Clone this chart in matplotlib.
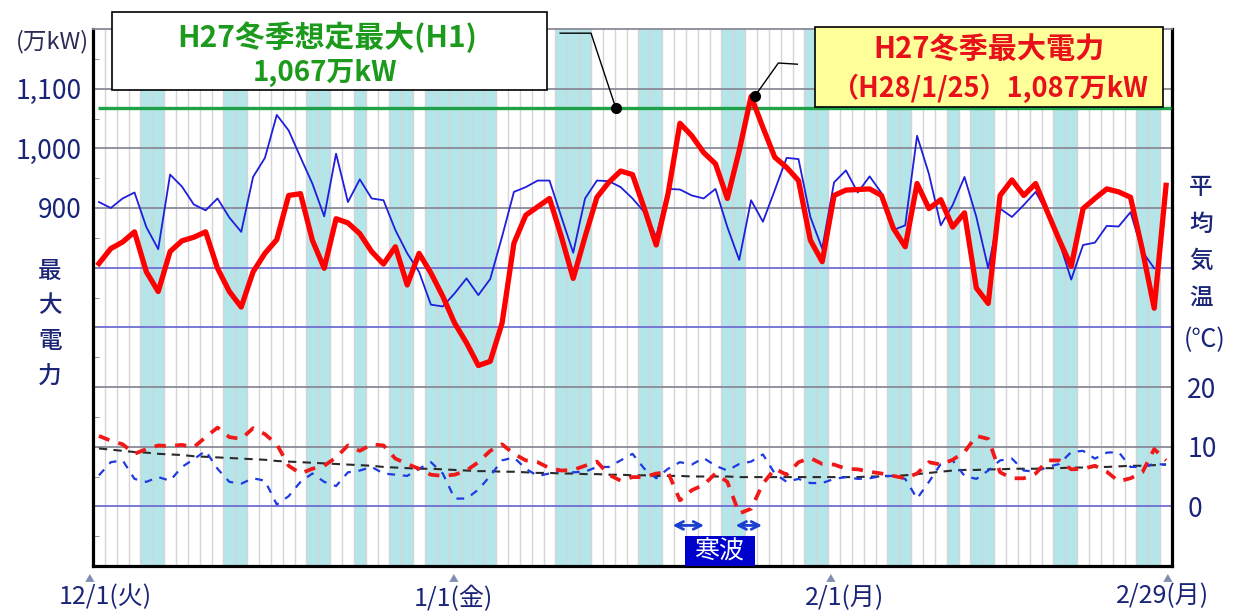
import numpy as np
import matplotlib
matplotlib.use('Agg')
import matplotlib.pyplot as plt
from matplotlib.patches import Rectangle

plt.rcParams['font.family'] = ['Noto Sans CJK JP', 'DejaVu Sans']

# ---------------- data ----------------
# H27 winter daily max power (万kW), 12/1 .. 2/29
max_power = [807, 832, 843, 860, 793, 760, 827, 845, 851, 860,
             799, 760, 734, 793, 824, 847, 921, 924, 846, 799,
             882, 875, 857, 827, 806, 835, 771, 824, 791, 752,
             707, 674, 636, 643, 707, 841, 888, 902, 916, 852,
             782, 852, 918, 943, 962, 956, 899, 838, 924, 1042,
             1021, 993, 974, 916, 996, 1087, 1035, 985, 968, 946,
             846, 810, 921, 930, 931, 932, 921, 866, 835, 941,
             899, 914, 868, 892, 766, 740, 921, 947, 921, 941,
             893, 846, 802, 899, 916, 932, 927, 918, 830, 732, 938]
# previous winter daily max power (万kW)
prev_power = [910, 900, 916, 926, 868, 831, 956, 936, 906, 896,
              916, 884, 860, 952, 984, 1056, 1030, 985, 941, 886,
              991, 910, 948, 916, 913, 863, 824, 793, 738, 735,
              757, 782, 754, 781, 852, 927, 935, 946, 946, 885,
              825, 916, 946, 945, 935, 916, 893, 852, 932, 931,
              921, 916, 932, 868, 813, 913, 877, 930, 984, 982,
              885, 832, 943, 963, 926, 953, 925, 863, 871, 1021,
              957, 871, 905, 952, 885, 799, 899, 885, 905, 927,
              891, 843, 780, 838, 842, 870, 869, 893, 827, 799]
# average temperature this winter (°C)
temp_now = [11.8, 11.0, 10.4, 8.8, 9.6, 10.2, 10.1, 10.3, 9.9, 11.6,
            13.2, 11.6, 11.3, 13.1, 12.1, 10.4, 6.8, 5.5, 6.3, 6.8,
            8.2, 10.2, 9.3, 10.4, 10.2, 8.0, 7.1, 6.3, 5.3, 5.1,
            5.3, 6.0, 7.4, 9.3, 10.4, 8.8, 7.7, 7.4, 6.4, 6.0,
            6.1, 6.8, 7.5, 5.3, 4.3, 4.9, 4.9, 5.5, 5.7, 1.0,
            2.7, 3.6, 5.5, 4.1, -1.2, -0.4, 3.8, 6.3, 5.3, 7.4,
            8.1, 7.1, 7.0, 6.3, 6.2, 5.8, 5.5, 5.1, 4.7, 5.5,
            7.4, 7.0, 7.8, 9.1, 11.8, 11.3, 5.7, 4.7, 4.7, 5.5,
            7.7, 7.7, 6.2, 6.3, 6.8, 5.8, 4.2, 4.7, 5.7, 9.6, 7.7]
# average temperature previous winter (°C)
temp_prev = [5.2, 7.4, 7.7, 4.6, 4.1, 4.9, 4.3, 6.6, 7.9, 9.3,
             6.3, 4.1, 3.8, 4.7, 4.3, 0.3, 1.7, 4.1, 5.5, 4.1,
             3.4, 5.7, 6.0, 6.6, 5.5, 5.3, 5.1, 6.3, 7.4, 5.5,
             1.3, 1.3, 2.8, 5.1, 7.7, 8.2, 6.3, 5.1, 5.5, 6.0,
             5.7, 5.8, 6.6, 6.6, 7.7, 8.8, 6.3, 4.7, 6.3, 7.4,
             7.0, 8.1, 6.8, 6.0, 7.1, 7.5, 8.7, 5.5, 4.1, 4.6,
             3.9, 3.9, 4.6, 4.9, 4.6, 4.7, 5.1, 5.1, 4.6, 1.3,
             4.1, 7.1, 7.7, 5.1, 4.6, 6.0, 7.7, 8.0, 6.0, 5.8,
             6.6, 7.1, 9.1, 9.3, 8.0, 9.0, 9.1, 6.6, 6.6, 7.1, 7.0]
# normal-year temperature (°C)
temp_normal = [9.7, 9.5, 9.3, 9.1, 9.0, 8.8, 8.7, 8.6, 8.4, 8.3,
               8.2, 8.1, 8.0, 7.9, 7.8, 7.6, 7.5, 7.4, 7.3, 7.2,
               7.1, 7.0, 6.9, 6.8, 6.6, 6.5, 6.4, 6.3, 6.3, 6.2,
               6.1, 6.0, 5.9, 5.9, 5.8, 5.8, 5.7, 5.6, 5.6, 5.5,
               5.5, 5.4, 5.4, 5.3, 5.3, 5.2, 5.2, 5.1, 5.1, 5.1,
               5.0, 5.0, 5.0, 5.0, 4.9, 4.9, 4.9, 4.9, 4.9, 4.9,
               4.9, 4.9, 4.9, 4.9, 4.9, 5.0, 5.0, 5.1, 5.2, 5.4,
               5.6, 5.8, 6.0, 6.1, 6.1, 6.2, 6.2, 6.3, 6.3, 6.3,
               6.4, 6.4, 6.5, 6.5, 6.6, 6.6, 6.7, 6.8, 6.8, 6.9, 7.0]
# weekends / holidays (day index from 12/1)
holidays = [4, 5, 11, 12, 18, 19, 22, 25, 26, 28, 29, 30, 31, 32, 33,
            39, 40, 41, 46, 47, 53, 54, 60, 61, 67, 68, 72, 74, 75,
            81, 82, 88, 89]
plan_max = 1067
left_ticks = [900, 1000, 1100]
left_ticklabels = ['900', '1,000', '1,100']
right_ticks = [0, 10, 20]
right_ticklabels = ['0', '10', '20']
x_labels = ['12/1(火)', '1/1(金)', '2/1(月)', '2/29(月)']
cold_wave_spans = [(48.15, 51.27), (53.46, 56.16)]

# ---------------- figure ----------------
W, H = 1237, 614
fig = plt.figure(figsize=(W / 100, H / 100), dpi=100)
L, R, B, T = 93, 1172, 566, 29
ax = fig.add_axes([L / W, 1 - B / H, (R - L) / W, (B - T) / H])
ax.set_xlim(-0.5, 90.5)
ax.set_ylim(300, 1200)
ax2 = ax.twinx()
ax2.set_ylim(-10, 80)

days = np.arange(len(max_power))
navy = '#1B2577'

# shading
for d in holidays:
    ax.axvspan(d - 0.5, d + 0.5, color='#B3E5E9', lw=0, zorder=0)
# vertical day grid
for k in range(1, len(days)):
    ax.axvline(k - 0.5, color='#D5D5D5', lw=1.0, zorder=0.5)
# horizontal grid
grid_levels = [400, 500, 600, 700, 800, 900, 1000, 1100]
grid_colors = ['#6E6ED2', '#8A8A98', '#8A8A98', '#6E6ED2', '#6E6ED2',
               '#8A8A98', '#8A8A98', '#8A8A98']
for lv, c in zip(grid_levels, grid_colors):
    ax.axhline(lv, color=c, lw=1.3, zorder=0.6)

# spines
for s in ['left', 'bottom', 'right']:
    ax.spines[s].set_linewidth(2.3)
    ax.spines[s].set_color('black')
ax.spines['top'].set_color('#8A8A98')
ax.spines['top'].set_linewidth(1.3)
for s in ax2.spines.values():
    s.set_visible(False)

# ticks
ax.set_xticks([])
ax.set_yticks(left_ticks, labels=left_ticklabels)
ax.set_yticks(np.arange(350, 1200, 50), minor=True)
ax.tick_params(axis='y', which='major', length=0, pad=8, labelsize=19, labelcolor=navy)
ax.tick_params(axis='y', which='minor', length=4, direction='in', color='#888888')
ax2.set_yticks(right_ticks, labels=right_ticklabels)
ax2.tick_params(axis='y', length=0, pad=11, labelsize=19, labelcolor=navy)

# power lines
ax.hlines(plan_max, -0.1, 90.4, color='#1FA247', lw=2.4, zorder=3)
ax.plot(days[:len(prev_power)], prev_power, color='#1E1EDC', lw=1.3, zorder=4)
ax.plot(days, max_power, color='#FF0000', lw=3.8, zorder=5)

# temperature lines
ax2.plot(days, temp_normal, color='#2A2A2A', lw=1.5, dashes=(4, 3), zorder=3)
ax2.plot(days, temp_prev, color='#1E3AE0', lw=1.6, dashes=(3.5, 3.5), zorder=4)
ax2.plot(days, temp_now, color='#F01818', lw=2.7, dashes=(3, 2.5), zorder=5)

# leader lines and dots
imax = int(np.argmax(max_power))
ax.plot([38.9, 41.5, 43.6], [1193, 1193, plan_max], color='black', lw=1, zorder=7, clip_on=False)
ax.plot([43.6], [plan_max], 'o', color='black', ms=7, zorder=8)
ax.plot([imax + 0.3, imax + 2.3, imax + 3.9], [max_power[imax], 1143, 1141],
        color='black', lw=1, zorder=7, clip_on=False)
ax.plot([imax + 0.3], [max_power[imax]], 'o', color='black', ms=7, zorder=8)

# cold wave arrows and label
for x0, x1 in cold_wave_spans:
    ax2.annotate('', xy=(x0, -3.2), xytext=(x1, -3.2),
                 arrowprops=dict(arrowstyle='<->', color='#1A3FD0', lw=2,
                                 mutation_scale=14), zorder=9)
ax2.add_patch(Rectangle((49.4, -10.05), 5.9, 5.0, facecolor='#0000CC',
                        edgecolor='none', zorder=9, clip_on=False))
ax2.text(52.35, -7.5, '寒波', color='white', fontsize=18, ha='center', va='center', zorder=10)


def px(xp, yp):
    return xp / W, 1 - yp / H


# annotation box 1
fig.add_artist(Rectangle(px(112, 90), 435 / W, 78 / H, transform=fig.transFigure,
                         facecolor='white', edgecolor='black', lw=1.2, zorder=5))
fig.text(*px(327, 37), 'H27冬季想定最大(H1)', color='#1C9A1C', fontsize=21.5,
         fontweight='bold', ha='center', va='center', zorder=6)
fig.text(*px(325, 73), '1,067万kW', color='#1C9A1C', fontsize=20,
         fontweight='bold', ha='center', va='center', zorder=6)
# annotation box 2
fig.add_artist(Rectangle(px(815, 107), 348 / W, 80 / H, transform=fig.transFigure,
                         facecolor='#FFFF99', edgecolor='black', lw=1.2, zorder=5))
fig.text(*px(989, 49), 'H27冬季最大電力', color='#E8101A', fontsize=21,
         fontweight='bold', ha='center', va='center', zorder=6)
fig.text(*px(989, 88), '（H28/1/25）1,087万kW', color='#E8101A', fontsize=19.5,
         fontweight='bold', ha='center', va='center', zorder=6)

# axis titles
fig.text(*px(52, 42), '(万kW)', color='#2B2B55', fontsize=17, ha='center', va='center')
for i, ch in enumerate('最大電力'):
    fig.text(*px(50, 271 + 35 * i), ch, color=navy, fontsize=17, fontweight='medium',
             ha='center', va='center')
for i, ch in enumerate('平均気温'):
    fig.text(*px(1201, 187 + 37 * i), ch, color=navy, fontsize=17, fontweight='medium',
             ha='center', va='center')
fig.text(*px(1205, 340), '(℃)', color=navy, fontsize=18, ha='center', va='center')

# x labels with markers
marker_px = [90, 454, 831, 1168]
label_px = [(105, 597), (453, 599), (845, 598), (1163, 596)]
for mx, (lx, ly), lab in zip(marker_px, label_px, x_labels):
    fig.text(*px(mx, 578), '▲', color='#7F8DB0', fontsize=7, ha='center', va='center')
    fig.text(*px(lx, ly), lab, color=navy, fontsize=18, ha='center', va='center')

fig.savefig('out.png', dpi=100)
